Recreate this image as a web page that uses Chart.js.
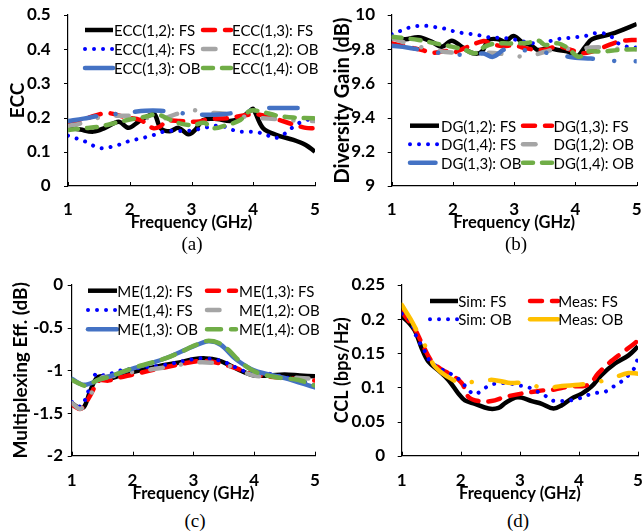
<!DOCTYPE html>
<html><head><meta charset="utf-8">
<script src="https://cdn.jsdelivr.net/npm/chart.js@4"></script>
<style>
html,body{margin:0;padding:0;background:#fff;width:643px;height:532px;overflow:hidden;position:relative}
canvas{position:absolute}
.cap{position:absolute;font-family:"Liberation Serif","Times New Roman",serif;font-size:19px;color:#000;transform:translate(-50%,-50%);line-height:1}
</style></head><body>
<canvas id="ca" width="322" height="233" style="left:0;top:0"></canvas>
<canvas id="cb" width="321" height="233" style="left:322px;top:0"></canvas>
<canvas id="cc" width="322" height="234" style="left:0;top:270px"></canvas>
<canvas id="cd" width="321" height="234" style="left:322px;top:270px"></canvas>
<div class="cap" style="left:192px;top:243px">(a)</div>
<div class="cap" style="left:516px;top:243px">(b)</div>
<div class="cap" style="left:195px;top:520px">(c)</div>
<div class="cap" style="left:518px;top:520px">(d)</div>
<script>
// ---------- DATA ----------
const xTicks = [1, 2, 3, 4, 5];

// (a) ECC
const eccTicks = [0, 0.1, 0.2, 0.3, 0.4, 0.5];
const eccLabels = ['ECC(1,2): FS', 'ECC(1,3): FS', 'ECC(1,4): FS', 'ECC(1,2): OB', 'ECC(1,3): OB', 'ECC(1,4): OB'];
const ecc12FS_f = [1.0,1.2,1.41,1.6,1.82,1.98,2.14,2.3,2.4,2.5,2.65,2.79,2.95,3.06,3.19,3.41,3.62,3.79,3.95,4.0,4.16,4.38,4.65,4.85,5.0];
const ecc12FS_v = [0.172,0.165,0.159,0.17,0.188,0.17,0.188,0.205,0.21,0.169,0.16,0.17,0.151,0.164,0.193,0.196,0.19,0.198,0.22,0.225,0.169,0.149,0.135,0.12,0.10];
const ecc13FS_f = [1.0,1.3,1.63,1.95,2.17,2.38,2.49,2.6,2.81,3.08,3.3,3.57,3.84,4.05,4.33,4.65,4.85,5.0];
const ecc13FS_v = [0.183,0.198,0.213,0.2,0.193,0.169,0.174,0.19,0.19,0.188,0.196,0.198,0.206,0.21,0.198,0.18,0.17,0.169];
const ecc14FS_f = [1.0,1.28,1.41,1.56,1.71,1.85,2.0,2.15,2.29,2.44,2.59,2.73,2.88,3.03,3.18,3.33,3.48,3.62,3.77,3.92,4.07,4.22,4.35,4.49,4.62,4.73,4.87,5.0];
const ecc14FS_v = [0.147,0.13,0.118,0.11,0.115,0.122,0.132,0.138,0.144,0.152,0.161,0.161,0.161,0.163,0.169,0.174,0.177,0.167,0.159,0.159,0.157,0.149,0.14,0.151,0.169,0.183,0.193,0.2];
const ecc12OB_f = [1.0,1.25,1.5,1.75,2.0,2.25,2.5,2.75,3.0,3.25,3.5,3.75,4.0,4.25,4.5,4.75,5.0];
const ecc12OB_v = [0.175,0.185,0.2,0.205,0.205,0.2,0.195,0.21,0.222,0.215,0.212,0.205,0.2,0.197,0.195,0.19,0.19];
const ecc13OB_f = [1.0,1.25,1.5,1.75,2.0,2.25,2.5,2.75,3.0,3.25,3.5,3.75,4.0,4.25,4.5,4.75,5.0];
const ecc13OB_v = [0.19,0.197,0.205,0.21,0.215,0.22,0.22,0.215,0.21,0.208,0.21,0.215,0.222,0.228,0.228,0.228,0.228];
const ecc14OB_f = [1.0,1.28,1.52,1.84,2.11,2.27,2.44,2.6,2.81,3.03,3.2,3.35,3.57,3.79,3.95,4.11,4.38,4.65,5.0];
const ecc14OB_v = [0.164,0.169,0.174,0.188,0.198,0.203,0.21,0.198,0.183,0.178,0.185,0.169,0.178,0.193,0.22,0.218,0.206,0.2,0.198];

// (b) Diversity gain
const dgTicks = [9, 9.2, 9.4, 9.6, 9.8, 10];
const dgLabels = ['DG(1,2): FS', 'DG(1,3): FS', 'DG(1,4): FS', 'DG(1,2): OB', 'DG(1,3): OB', 'DG(1,4): OB'];
const dg12FS_f = [1.0,1.22,1.44,1.65,1.82,1.98,2.14,2.33,2.47,2.58,2.74,2.85,2.99,3.12,3.29,3.39,3.56,3.72,3.88,4.02,4.16,4.27,4.59,5.0];
const dg12FS_v = [9.864,9.858,9.87,9.844,9.815,9.85,9.815,9.776,9.786,9.854,9.858,9.844,9.877,9.844,9.819,9.795,9.805,9.795,9.786,9.756,9.815,9.858,9.889,9.947];
const dg13FS_f = [1.0,1.3,1.5,1.65,1.9,2.0,2.2,2.5,2.6,2.8,3.0,3.2,3.45,3.72,3.94,4.1,4.27,4.48,4.7,4.92,5.0];
const dg13FS_v = [9.834,9.81,9.795,9.778,9.79,9.78,9.808,9.848,9.835,9.818,9.822,9.805,9.795,9.815,9.795,9.776,9.786,9.815,9.844,9.854,9.854];
const dg14FS_f = [1.0,1.15,1.3,1.44,1.59,1.73,1.89,2.03,2.19,2.34,2.49,2.64,2.8,2.95,3.1,3.24,3.39,3.55,3.69,3.86,4.0,4.16,4.31,4.46,4.6,4.7,4.84,5.0];
const dg14FS_v = [9.887,9.908,9.928,9.936,9.936,9.928,9.918,9.903,9.893,9.887,9.877,9.867,9.867,9.86,9.85,9.838,9.834,9.844,9.858,9.864,9.87,9.877,9.893,9.893,9.87,9.834,9.815,9.81];
const dg12OB_f = [1.0,1.25,1.5,1.75,2.0,2.25,2.5,2.75,3.0,3.25,3.5,3.75,4.0,4.25,4.5,4.75,5.0];
const dg12OB_v = [9.865,9.835,9.81,9.79,9.78,9.78,9.78,9.775,9.76,9.76,9.785,9.805,9.8,9.81,9.81,9.8,9.8];
const dg13OB_f = [1.0,1.25,1.5,1.75,2.0,2.25,2.5,2.65,2.85,3.0,3.25,3.5,3.75,4.0,4.25,4.5,4.75,5.0];
const dg13OB_v = [9.82,9.81,9.795,9.78,9.77,9.768,9.775,9.755,9.8,9.8,9.79,9.78,9.765,9.75,9.745,9.735,9.73,9.73];
const dg14OB_f = [1.0,1.22,1.44,1.71,1.98,2.2,2.36,2.52,2.69,2.9,3.07,3.23,3.4,3.5,3.72,3.88,4.05,4.21,4.43,4.7,5.0];
const dg14OB_v = [9.873,9.864,9.854,9.834,9.815,9.795,9.776,9.815,9.834,9.834,9.834,9.838,9.85,9.825,9.834,9.805,9.756,9.786,9.786,9.795,9.8];

// (c) Multiplexing efficiency
const meTicks = [-2, -1.5, -1, -0.5, 0];
const meLabels = ['ME(1,2): FS', 'ME(1,3): FS', 'ME(1,4): FS', 'ME(1,2): OB', 'ME(1,3): OB', 'ME(1,4): OB'];
const me12FS_f = [1.0,1.1,1.2,1.3,1.4,1.5,1.6,1.75,2.0,2.25,2.5,2.75,3.0,3.2,3.4,3.6,3.8,4.0,4.25,4.5,4.75,5.0];
const me12FS_v = [-1.38,-1.43,-1.43,-1.25,-1.1,-1.07,-1.1,-1.07,-1.02,-0.98,-0.94,-0.91,-0.87,-0.86,-0.88,-0.94,-1.01,-1.06,-1.06,-1.05,-1.06,-1.07];
const me13FS_f = [1.0,1.15,1.3,1.45,1.6,1.75,2.0,2.5,3.0,3.2,3.5,3.8,4.0,4.5,5.0];
const me13FS_v = [-1.4,-1.45,-1.3,-1.12,-1.12,-1.09,-1.05,-0.97,-0.9,-0.89,-0.93,-1.0,-1.05,-1.09,-1.12];
const me14FS_f = [1.0,1.15,1.3,1.4,1.55,1.75,2.0,2.5,3.0,3.2,3.5,3.8,4.0,4.25,4.5,4.75,5.0];
const me14FS_v = [-1.37,-1.42,-1.2,-1.04,-1.06,-1.01,-0.98,-0.94,-0.87,-0.86,-0.9,-1.0,-1.03,-1.04,-1.08,-1.12,-1.18];
const me12OB_f = [1.0,1.15,1.3,1.45,1.75,2.0,2.5,3.0,3.3,3.6,4.0,4.5,5.0];
const me12OB_v = [-1.38,-1.45,-1.3,-1.1,-1.06,-1.02,-0.97,-0.91,-0.91,-0.95,-1.06,-1.08,-1.1];
const me13OB_f = [1.0,1.2,1.45,1.75,2.0,2.5,3.0,3.25,3.45,3.7,4.0,4.5,5.0];
const me13OB_v = [-1.1,-1.17,-1.11,-1.04,-0.98,-0.87,-0.72,-0.66,-0.7,-0.87,-1.0,-1.09,-1.2];
const me14OB_f = [1.0,1.11,1.22,1.33,1.44,1.6,1.77,1.99,2.26,2.54,2.81,2.97,3.14,3.25,3.41,3.58,3.74,3.96,4.18,4.45,4.73,5.0];
const me14OB_v = [-1.11,-1.15,-1.18,-1.15,-1.11,-1.08,-1.035,-0.977,-0.92,-0.86,-0.78,-0.723,-0.676,-0.652,-0.676,-0.762,-0.879,-0.996,-1.055,-1.09,-1.113,-1.18];

// (d) CCL
const cclTicks = [0, 0.05, 0.1, 0.15, 0.2, 0.25];
const cclLabels = ['Sim: FS', 'Meas: FS', 'Sim: OB', 'Meas: OB'];
const simFS_f = [1.0,1.11,1.23,1.34,1.45,1.62,1.79,1.96,2.07,2.24,2.47,2.64,2.75,2.92,3.03,3.2,3.37,3.57,3.71,3.88,4.05,4.21,4.38,4.61,4.84,5.0];
const simFS_v = [0.204,0.196,0.182,0.157,0.138,0.125,0.111,0.091,0.081,0.076,0.069,0.07,0.077,0.085,0.085,0.08,0.076,0.069,0.074,0.084,0.091,0.101,0.118,0.135,0.147,0.16];
const measFS_f = [1.0,1.23,1.34,1.51,1.68,1.85,2.02,2.13,2.3,2.52,2.75,3.03,3.26,3.43,3.59,3.82,4.16,4.33,4.5,4.72,4.95,5.0];
const measFS_v = [0.211,0.184,0.165,0.138,0.126,0.118,0.106,0.086,0.08,0.08,0.086,0.091,0.094,0.096,0.097,0.101,0.104,0.121,0.135,0.15,0.165,0.17];
const simOB_f = [1.0,1.14,1.25,1.34,1.41,1.48,1.59,1.73,1.89,2.02,2.12,2.24,2.37,2.51,2.66,2.82,2.96,3.12,3.27,3.41,3.54,3.69,3.85,4.01,4.16,4.3,4.45,4.58,4.71,4.84,4.95,5.0];
const simOB_v = [0.208,0.199,0.174,0.16,0.15,0.138,0.131,0.124,0.117,0.108,0.097,0.09,0.097,0.104,0.106,0.106,0.103,0.101,0.095,0.089,0.081,0.08,0.081,0.084,0.089,0.092,0.094,0.101,0.108,0.118,0.13,0.145];
const measOB_f = [1.0,1.15,1.28,1.42,1.54,1.7,1.85,2.0,2.26,2.55,2.8,3.12,3.4,3.71,4.0,4.27,4.54,4.84,5.0];
const measOB_v = [0.221,0.2,0.179,0.157,0.133,0.12,0.112,0.106,0.109,0.111,0.107,0.106,0.099,0.102,0.104,0.107,0.113,0.121,0.12];

// ---------- STYLES ----------
const ST = {
  black:  {color:'#000000', w:4.5, dash:[], cap:'butt'},
  red:    {color:'#FF0000', w:4.5, dash:[12,10], cap:'round'},
  dotted: {color:'#0000FF', w:4,   dash:[0.01,9], cap:'round'},
  gray:   {color:'#A5A5A5', w:4.5, dash:[12.5,18.5,0.01,18.5], cap:'round'},
  blueOB: {color:'#4472C4', w:4.5, dash:[28.5,19.5,0.01,19.5], cap:'round'},
  blueOB2:{color:'#4472C4', w:4.5, dash:[25.5,21.5,0.01,21.5,0.01,21.5], cap:'round'},
  blueS:  {color:'#4472C4', w:4.5, dash:[], cap:'round'},
  green:  {color:'#70AD47', w:4.5, dash:[10,9], cap:'round'},
  greenL: {color:'#70AD47', w:4.5, dash:[14,10], cap:'round'},
  yellow: {color:'#FFC000', w:4.5, dash:[28.5,18.5,0.01,18.5], cap:'round'}
};

const FONT = 'Lato, "Open Sans", sans-serif';

function pts(f, v) { return f.map((x, i) => ({x: x, y: v[i]})); }

function ds(label, f, v, st, idx, n) {
  const s = ST[st];
  return {label, data: pts(f, v), borderColor: s.color, backgroundColor: s.color,
    borderWidth: s.w, borderDash: s.dash, borderCapStyle: s.cap, borderJoinStyle: 'round',
    pointRadius: 0, tension: 0.35, fill: false, order: n - idx};
}

const legendPlugin = {
  id: 'insideLegend',
  afterDatasetsDraw(chart) {
    const L = chart.options.plugins.insideLegend;
    if (!L) return;
    const ctx = chart.ctx;
    ctx.save();
    chart.data.datasets.forEach((d, i) => {
      const col = i % 2, row = Math.floor(i / 2);
      const y = L.rows[row];
      const sx = L.cols[col][0], tx = L.cols[col][1];
      ctx.beginPath();
      ctx.setLineDash(d.borderDash || []);
      ctx.lineDashOffset = 0;
      ctx.lineCap = d.borderCapStyle;
      ctx.lineWidth = d.borderWidth;
      ctx.strokeStyle = d.borderColor;
      ctx.moveTo(sx, y);
      ctx.lineTo(sx + L.len, y);
      ctx.stroke();
      ctx.setLineDash([]);
      ctx.fillStyle = '#000';
      ctx.font = L.font;
      ctx.textBaseline = 'middle';
      ctx.textAlign = 'left';
      ctx.fillText(d.label, tx, y + 1);
    });
    ctx.restore();
  }
};

// tick marks: x inward (up), y outward (left)
const tickMarks = {
  id: 'tickMarks',
  afterDraw(chart) {
    const xs = chart.scales.x, ys = chart.scales.y;
    const ctx = chart.ctx;
    ctx.save();
    ctx.strokeStyle = '#000';
    ctx.lineWidth = 1;
    xs.ticks.forEach(t => {
      const px = Math.round(xs.getPixelForValue(t.value)) + 0.5;
      ctx.beginPath();
      ctx.moveTo(px, ys.bottom);
      ctx.lineTo(px, ys.bottom - 4);
      ctx.stroke();
    });
    ys.ticks.forEach(t => {
      const py = Math.round(ys.getPixelForValue(t.value)) + 0.5;
      ctx.beginPath();
      ctx.moveTo(xs.left, py);
      ctx.lineTo(xs.left - 4, py);
      ctx.stroke();
    });
    ctx.restore();
  }
};

function make(id, p) {
  const n = p.sets.length;
  const datasets = p.sets.map((s, i) => ds(s[0], s[1], s[2], s[3], i, n));
  new Chart(document.getElementById(id), {
    type: 'line',
    data: {datasets},
    plugins: [legendPlugin, tickMarks],
    options: {
      responsive: false, animation: false, events: [],
      layout: {padding: {left: 0, top: p.pt, right: p.pr, bottom: 0}},
      plugins: {legend: {display: false}, tooltip: {enabled: false},
        insideLegend: p.legend},
      scales: {
        x: {type: 'linear', min: 1, max: 5,
          afterBuildTicks: s => { s.ticks = xTicks.map(v => ({value: v})); },
          afterFit: s => { s.height = p.xh; },
          grid: {display: false, drawTicks: true, tickLength: p.xtl},
          border: {display: true, color: '#000', width: 1.2},
          ticks: {font: {family: FONT, size: 17, weight: 'bold'}, color: '#000', padding: 0, maxRotation: 0,
            callback: v => String(v)},
          title: {display: true, text: 'Frequency (GHz)', color: '#000',
            font: {family: FONT, size: 16.5, weight: 'bold'}, padding: {top: 0, bottom: 0}}
        },
        y: {type: 'linear', min: p.yTicks[0], max: p.yTicks[p.yTicks.length - 1],
          afterBuildTicks: s => { s.ticks = p.yTicks.map(v => ({value: v})); },
          afterFit: s => { s.width = p.yw; },
          grid: {display: false, drawTicks: true, tickLength: p.ytl},
          border: {display: true, color: '#000', width: 1.2},
          ticks: {font: {family: FONT, size: 17, weight: 'bold'}, color: '#000', padding: 0,
            callback: v => String(+v.toFixed(2))},
          title: {display: true, text: p.yTitle, color: '#000',
            font: {family: FONT, size: p.ytSize, weight: 'bold'}, padding: {top: p.ytPad, bottom: 0}}
        }
      }
    }
  });
}

make('ca', {
  pt: 15, pr: 7, xh: 47, yw: 68, xtl: 13.8, ytl: 17.3, yTicks: eccTicks,
  yTitle: 'ECC', ytSize: 19, ytPad: 6.1,
  legend: {rows: [30, 49, 68], cols: [[85, 114], [203, 232]], len: 28, font: '15px ' + FONT},
  sets: [
    [eccLabels[0], ecc12FS_f, ecc12FS_v, 'black'],
    [eccLabels[1], ecc13FS_f, ecc13FS_v, 'red'],
    [eccLabels[2], ecc14FS_f, ecc14FS_v, 'dotted'],
    [eccLabels[3], ecc12OB_f, ecc12OB_v, 'gray'],
    [eccLabels[4], ecc13OB_f, ecc13OB_v, 'blueOB'],
    [eccLabels[5], ecc14OB_f, ecc14OB_v, 'green']
  ]
});
make('cb', {
  pt: 15, pr: 6.3, xh: 47, yw: 69.7, xtl: 13.8, ytl: 16.7, yTicks: dgTicks,
  yTitle: 'Diversity Gain (dB)', ytSize: 20, ytPad: 9,
  legend: {rows: [125.7, 144.3, 162.7], cols: [[88, 119], [201, 231.5]], len: 29, font: '15px ' + FONT},
  sets: [
    [dgLabels[0], dg12FS_f, dg12FS_v, 'black'],
    [dgLabels[1], dg13FS_f, dg13FS_v, 'red'],
    [dgLabels[2], dg14FS_f, dg14FS_v, 'dotted'],
    [dgLabels[3], dg12OB_f, dg12OB_v, 'gray'],
    [dgLabels[4], dg13OB_f, dg13OB_v, 'blueOB2'],
    [dgLabels[5], dg14OB_f, dg14OB_v, 'green']
  ]
});
make('cc', {
  pt: 15, pr: 7, xh: 48.3, yw: 71.7, xtl: 15.1, ytl: 8.7, yTicks: meTicks,
  yTitle: 'Multiplexing Eff. (dB)', ytSize: 19, ytPad: 9.6,
  legend: {rows: [20.7, 40, 59.3], cols: [[88, 117.3], [207, 239]], len: 29, font: '15px ' + FONT},
  sets: [
    [meLabels[0], me12FS_f, me12FS_v, 'black'],
    [meLabels[1], me13FS_f, me13FS_v, 'red'],
    [meLabels[2], me14FS_f, me14FS_v, 'dotted'],
    [meLabels[3], me12OB_f, me12OB_v, 'gray'],
    [meLabels[4], me13OB_f, me13OB_v, 'blueS'],
    [meLabels[5], me14OB_f, me14OB_v, 'greenL']
  ]
});
make('cd', {
  pt: 15, pr: 5, xh: 48.3, yw: 79.7, xtl: 15.1, ytl: 16.7, yTicks: cclTicks,
  yTitle: 'CCL (bps/Hz)', ytSize: 18, ytPad: 9.2,
  legend: {rows: [31, 49.3], cols: [[108, 136.3], [208, 236.3]], len: 28, font: '15px ' + FONT},
  sets: [
    [cclLabels[0], simFS_f, simFS_v, 'black'],
    [cclLabels[1], measFS_f, measFS_v, 'red'],
    [cclLabels[2], simOB_f, simOB_v, 'dotted'],
    [cclLabels[3], measOB_f, measOB_v, 'yellow']
  ]
});
</script>
</body></html>
